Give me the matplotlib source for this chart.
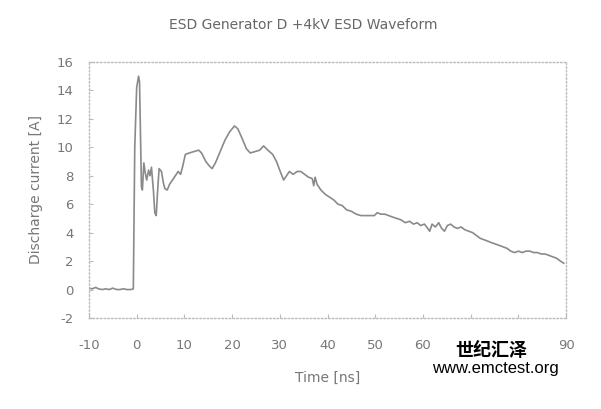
import matplotlib.pyplot as plt

# ---- data ----
time_ns = [-10, -9.3, -8.6, -8, -7.2, -6.5, -5.8, -5, -4.2, -3.5, -2.8, -2, -1.2, -0.7,
           -0.4, 0.0, 0.4, 0.6, 0.8, 1.0, 1.2,
           1.5, 1.8, 2.1, 2.5, 2.8, 3.1, 3.5, 3.8, 4.1, 4.4, 4.7,
           5.2, 5.6, 5.9, 6.4, 6.9, 7.5, 8.1, 8.7, 9.2, 9.6, 10.2,
           11, 12, 13, 13.6, 14.5, 15.2, 15.8, 16.5, 17.5, 18.5,
           19.5, 20.5, 21.2, 22, 23, 23.8, 24.8, 25.8, 26.6, 27.5,
           28.5, 29.3, 30.2, 30.8, 31.4, 32, 32.8, 33.6, 34.4, 35.2,
           36, 36.8, 37.1, 37.4, 37.8, 38.6, 39.5, 40.4, 41.3, 42.2,
           43.1, 44, 45, 46, 47, 48, 49, 49.8, 50.4, 51.2,
           52, 52.8, 53.6, 54.5, 55.4, 56.3, 57.2, 58, 58.8, 59.5,
           60.3, 61, 61.4, 61.9, 62.6, 63.3, 63.9, 64.5, 65.1, 65.8,
           66.5, 67.2, 68, 68.8, 69.6, 70.4, 71.2, 72, 72.8, 73.6,
           74.3, 75.2, 76, 76.8, 77.6, 78.4, 79.2, 80, 80.8, 81.6,
           82.4, 83.2, 84, 84.8, 85.6, 86.4, 87.2, 88, 88.8, 89.5]
current_a = [0.1, 0.05, 0.15, 0.05, 0.0, 0.05, 0.0, 0.1, 0.0, 0.0, 0.05, 0.0, 0.0, 0.05,
             10.0, 14.2, 15.0, 14.6, 11.0, 7.2, 7.0,
             8.9, 8.2, 7.7, 8.4, 8.0, 8.6, 7.0, 5.4, 5.2, 7.0, 8.5,
             8.3, 7.5, 7.1, 7.0, 7.4, 7.7, 8.0, 8.3, 8.1, 8.6, 9.5,
             9.6, 9.7, 9.8, 9.6, 9.0, 8.7, 8.5, 8.9, 9.7, 10.5,
             11.1, 11.5, 11.3, 10.7, 9.9, 9.6, 9.7, 9.8, 10.1, 9.8,
             9.5, 9.0, 8.2, 7.7, 8.0, 8.3, 8.1, 8.3, 8.3, 8.1,
             7.9, 7.8, 7.3, 7.9, 7.4, 7.0, 6.7, 6.5, 6.3, 6.0,
             5.9, 5.6, 5.5, 5.3, 5.2, 5.2, 5.2, 5.2, 5.4, 5.3,
             5.3, 5.2, 5.1, 5.0, 4.9, 4.7, 4.8, 4.6, 4.7, 4.5,
             4.6, 4.3, 4.1, 4.6, 4.4, 4.7, 4.3, 4.1, 4.5, 4.6,
             4.4, 4.3, 4.4, 4.2, 4.1, 4.0, 3.8, 3.6, 3.5, 3.4,
             3.3, 3.2, 3.1, 3.0, 2.9, 2.7, 2.6, 2.7, 2.6, 2.7,
             2.7, 2.6, 2.6, 2.5, 2.5, 2.4, 2.3, 2.2, 2.0, 1.85]

x_ticks = list(range(-10, 91, 10))
y_ticks = list(range(-2, 17, 2))

plt.rcParams['font.family'] = ['DejaVu Sans', 'Noto Sans CJK SC']
plt.rcParams['axes.unicode_minus'] = False

fig = plt.figure(figsize=(6.01, 4.09), dpi=100)
ax = fig.add_axes([0.148, 0.2225, 0.794, 0.626])

ax.plot(time_ns, current_a, color='#8a8a8a', linewidth=1.2)

ax.set_xlim(-10, 90)
ax.set_ylim(-2, 16)
ax.set_xticks(x_ticks)
ax.set_yticks(y_ticks)
ax.tick_params(direction='in', length=3, color='#bbbbbb', labelcolor='#777777',
               labelsize=9.5)
ax.tick_params(axis='x', pad=15)
ax.tick_params(axis='y', pad=11)
for s in ax.spines.values():
    s.set_linestyle(':')
    s.set_color('#bbbbbb')
    s.set_linewidth(1)

ax.set_xlabel('Time [ns]', color='#777777', fontsize=10, labelpad=14)
ax.set_ylabel('Discharge current [A]', color='#777777', fontsize=10, labelpad=10)
fig.text(0.504, 0.939, 'ESD Generator D +4kV ESD Waveform', ha='center', va='center',
         color='#666666', fontsize=10)

# watermark (sits on top of the 70 / 80 tick labels, like the scan)
wm_box = dict(facecolor='white', edgecolor='none', pad=1.5)
fig.text(0.817, 0.144, '世纪汇泽', ha='center', va='center', fontsize=13,
         fontweight='bold', color='black', family=['Noto Sans CJK SC', 'DejaVu Sans'],
         bbox=wm_box, zorder=5)
fig.text(0.824, 0.098, 'www.emctest.org', ha='center', va='center', fontsize=12,
         color='black', family=['Liberation Sans', 'DejaVu Sans'],
         bbox=wm_box, zorder=5)

fig.savefig('out.png', dpi=100)
